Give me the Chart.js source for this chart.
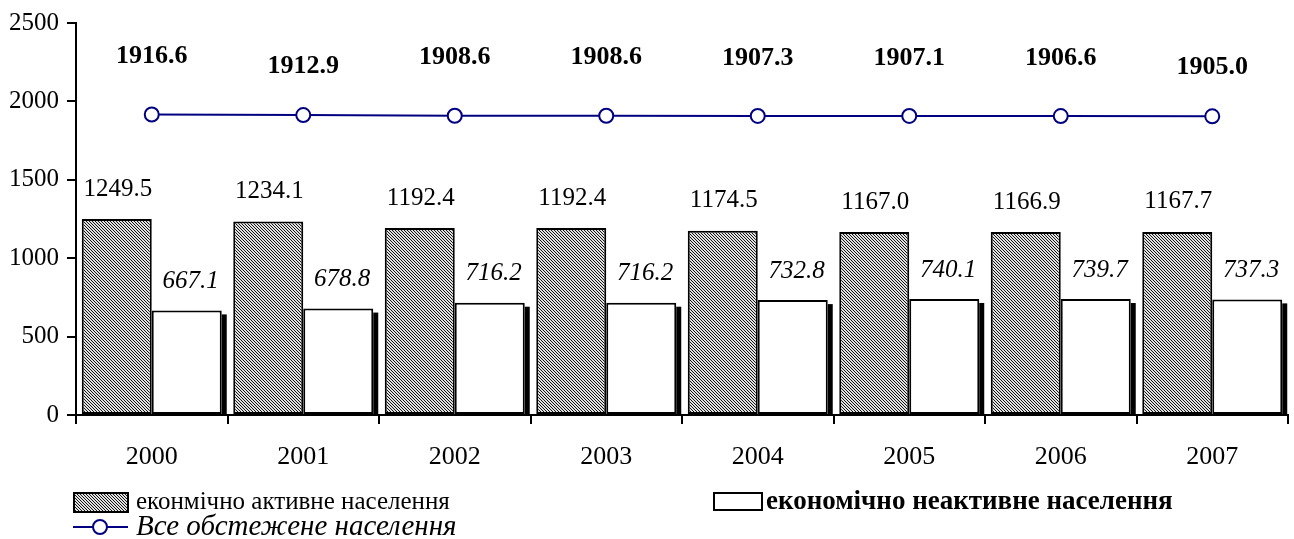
<!DOCTYPE html>
<html>
<head>
<meta charset="utf-8">
<script src="https://cdn.jsdelivr.net/npm/chart.js@4.4.1/dist/chart.umd.min.js"></script>
<style>
  html, body { margin: 0; padding: 0; background: #fff; }
  #wrap { width: 1294px; height: 539px; position: relative; }
</style>
</head>
<body>
<div id="wrap"><canvas id="c" width="1294" height="539"></canvas></div>
<script>
const categories = ['2000', '2001', '2002', '2003', '2004', '2005', '2006', '2007'];
const activeValues = [1249.5, 1234.1, 1192.4, 1192.4, 1174.5, 1167.0, 1166.9, 1167.7];
const inactiveValues = [667.1, 678.8, 716.2, 716.2, 732.8, 740.1, 739.7, 737.3];
const totalValues = [1916.6, 1912.9, 1908.6, 1908.6, 1907.3, 1907.1, 1906.6, 1905.0];
const yTicks = [0, 500, 1000, 1500, 2000, 2500];
const labelActive = 'еконмічно активне населення';
const labelInactive = 'економічно неактивне населення';
const labelTotal = 'Все обстежене населення';

const SERIF = '"Liberation Serif", "Times New Roman", serif';
const NAVY = '#000080';

function makeHatch() {
  const t = document.createElement('canvas');
  t.width = 3; t.height = 3;
  const g = t.getContext('2d');
  const img = g.createImageData(3, 3);
  for (let y = 0; y < 3; y++) for (let x = 0; x < 3; x++) {
    const k = ((x - y) % 3 + 3) % 3;
    const v = (k === 0) ? 20 : 225;
    const i = (y * 3 + x) * 4;
    img.data[i] = v; img.data[i + 1] = v; img.data[i + 2] = v; img.data[i + 3] = 255;
  }
  g.putImageData(img, 0, 0);
  return document.getElementById('c').getContext('2d').createPattern(t, 'repeat');
}
const hatch = makeHatch();

const valueLabels = {
  id: 'valueLabels',
  afterDatasetsDraw(chart, args, opts) {
    const ctx = chart.ctx;
    ctx.save();
    ctx.fillStyle = '#000';
    ctx.textAlign = 'center';
    ctx.textBaseline = 'middle';
    const mInact = chart.getDatasetMeta(1);
    mInact.data.forEach(el => {
      const right = el.x + el.width / 2;
      ctx.fillRect(right, el.y + 4, 5, el.base - el.y - 4);
    });
    ctx.font = '25px ' + SERIF;
    chart.getDatasetMeta(0).data.forEach((el, i) => {
      ctx.fillText(activeValues[i].toFixed(1), el.x + 1, el.y - 30);
    });
    ctx.font = 'italic 25px ' + SERIF;
    mInact.data.forEach((el, i) => {
      ctx.fillText(inactiveValues[i].toFixed(1), el.x + 4, el.y - 29);
    });
    ctx.font = 'bold 26px ' + SERIF;
    chart.getDatasetMeta(2).data.forEach((el, i) => {
      const off = opts.lineOffsets[i];
      ctx.fillText(totalValues[i].toFixed(1), el.x, el.y - off);
    });
    ctx.restore();
  }
};

const customLegend = {
  id: 'customLegend',
  afterDraw(chart) {
    const ctx = chart.ctx;
    const ds = chart.data.datasets;
    ctx.save();
    ctx.textBaseline = 'middle';
    ctx.textAlign = 'left';
    ctx.fillStyle = hatch;
    ctx.fillRect(74, 493, 54, 19);
    ctx.strokeStyle = '#000'; ctx.lineWidth = 2;
    ctx.strokeRect(74, 493, 54, 19);
    ctx.fillStyle = '#000';
    ctx.font = '25px ' + SERIF;
    ctx.fillText(ds[0].label, 136, 502);
    ctx.fillStyle = '#fff';
    ctx.fillRect(714, 493, 48, 17);
    ctx.strokeRect(714, 493, 48, 17);
    ctx.fillStyle = '#000';
    ctx.font = 'bold 27px ' + SERIF;
    ctx.fillText(ds[1].label, 766, 502);
    ctx.strokeStyle = NAVY; ctx.lineWidth = 2;
    ctx.beginPath(); ctx.moveTo(73, 527); ctx.lineTo(128, 527); ctx.stroke();
    ctx.beginPath(); ctx.arc(100, 527, 7, 0, Math.PI * 2);
    ctx.fillStyle = '#fff'; ctx.fill(); ctx.stroke();
    ctx.fillStyle = '#000';
    ctx.font = 'italic 29px ' + SERIF;
    ctx.fillText(ds[2].label, 136, 527);
    ctx.restore();
  }
};

new Chart(document.getElementById('c'), {
  type: 'bar',
  data: {
    labels: categories,
    datasets: [
      { type: 'bar', label: labelActive, data: activeValues, backgroundColor: hatch,
        borderColor: '#000', borderWidth: 2, borderSkipped: false, order: 2 },
      { type: 'bar', label: labelInactive, data: inactiveValues, backgroundColor: '#fff',
        borderColor: '#000', borderWidth: 2, borderSkipped: false, order: 2 },
      { type: 'line', label: labelTotal, data: totalValues, borderColor: NAVY, borderWidth: 2,
        pointRadius: 7, pointHoverRadius: 7, pointBackgroundColor: '#fff', pointBorderColor: NAVY,
        pointBorderWidth: 2, fill: false, tension: 0, order: 1 }
    ]
  },
  options: {
    responsive: false,
    animation: false,
    events: [],
    layout: { autoPadding: false, padding: { left: 0, right: 6, top: 23, bottom: 74 } },
    datasets: { bar: { categoryPercentage: 0.924, barPercentage: 1.0 } },
    plugins: {
      legend: { display: false },
      tooltip: { enabled: false },
      valueLabels: { lineOffsets: [58, 49, 58, 58, 58, 58, 58, 49] }
    },
    scales: {
      x: {
        grid: { display: true, offset: true, drawOnChartArea: false, drawTicks: true, tickLength: 9,
                color: '#000', lineWidth: 2 },
        border: { display: true, color: '#000', width: 2 },
        ticks: { color: '#000', font: { family: SERIF, size: 26 }, padding: 18, maxRotation: 0 },
        afterFit(s) { s.height = 50; s.paddingLeft = 0; s.paddingRight = 0; }
      },
      y: {
        min: 0, max: 2500,
        afterBuildTicks(s) { s.ticks = yTicks.map(v => ({ value: v })); },
        grid: { display: true, drawOnChartArea: false, drawTicks: true, tickLength: 9,
                color: '#000', lineWidth: 2 },
        border: { display: true, color: '#000', width: 2 },
        ticks: { color: '#000', font: { family: SERIF, size: 25 }, padding: 8,
                 callback: (v) => String(v) },
        afterFit(s) { s.width = 76; s.paddingTop = 0; s.paddingBottom = 0; }
      }
    }
  },
  plugins: [valueLabels, customLegend]
});
</script>
</body>
</html>
